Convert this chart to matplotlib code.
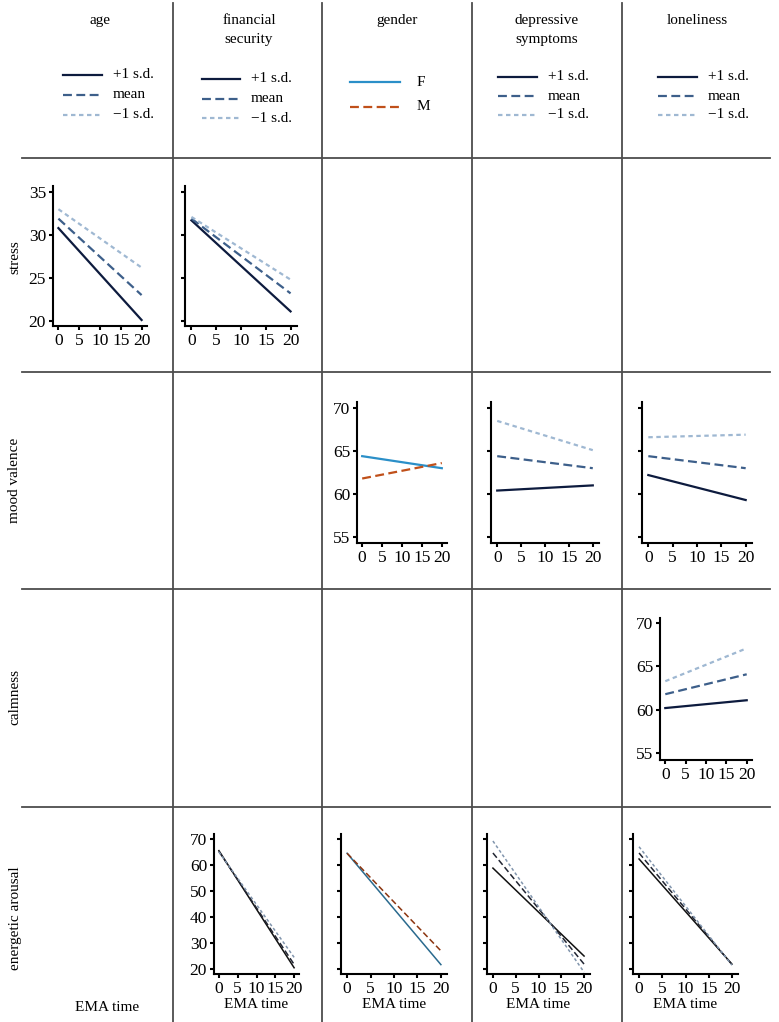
import matplotlib
matplotlib.use("Agg")
import matplotlib.pyplot as plt
from matplotlib.lines import Line2D

plt.rcParams['font.family'] = ['Liberation Serif', 'DejaVu Serif']
plt.rcParams['font.size'] = 11

W, H = 779, 1022

# column / row names
columns = ["age", "financial\nsecurity", "gender", "depressive\nsymptoms", "loneliness"]
rows = ["stress", "mood valence", "calmness", "energetic arousal"]
sd_labels = ["+1 s.d.", "mean", "\u22121 s.d."]
gender_labels = ["F", "M"]
ema = [0, 20]

# simple slopes: (start at EMA 0, end at EMA 20) for +1 s.d., mean, -1 s.d.
stress_age = [[30.8, 20.1], [31.9, 23.0], [33.0, 26.2]]
stress_fin = [[31.7, 21.1], [31.9, 23.2], [32.1, 24.8]]
mood_gender = [[64.4, 63.0], [61.8, 63.6]]
mood_dep = [[60.4, 61.0], [64.4, 63.0], [68.5, 65.1]]
mood_lone = [[62.2, 59.3], [64.4, 63.0], [66.6, 66.9]]
calm_lone = [[60.2, 61.1], [61.8, 64.1], [63.3, 67.1]]
energy_fin = [[65.5, 20.5], [65.2, 21.8], [65.0, 24.5]]
energy_gender = [[64.5, 21.7], [64.5, 27.0]]
energy_dep = [[58.8, 25.0], [64.6, 21.9], [69.2, 18.8]]
energy_lone = [[62.3, 21.9], [64.6, 21.7], [67.0, 21.5]]

sd_colors = ['#0d1b3e', '#3d5f8a', '#9fb8d2']
sd_dash = [None, (4, 2), (2, 1.6)]
g_colors = ['#2b8fc8', '#c0501a']
g_dash = [None, (4, 2)]
e_colors = ['#111111', '#222633', '#8195ad']
eg_colors = ['#2a6a8e', '#8b3510']

fig = plt.figure(figsize=(W / 100, H / 100), dpi=100)


def fx(x):
    return x / W


def fy(y):
    return 1 - y / H


def panel(l, r, t, b, ylim, yticks, show_ylab, xlabel=False):
    ax = fig.add_axes([fx(l), fy(b), fx(r - l), (b - t) / H])
    ax.set_xlim(-1.3, 21.3)
    ax.set_ylim(*ylim)
    ax.set_xticks([0, 5, 10, 15, 20])
    ax.set_yticks(yticks)
    if not show_ylab:
        ax.set_yticklabels([])
    for s in ['top', 'right']:
        ax.spines[s].set_visible(False)
    for s in ['left', 'bottom']:
        ax.spines[s].set_linewidth(1.5)
    ax.tick_params(length=3, width=1.5, pad=2, labelsize=12.5)
    ax.patch.set_alpha(0)
    if xlabel:
        ax.set_xlabel("EMA time", fontsize=11, labelpad=1)
    return ax


def draw_sd(ax, series, colors, lw=1.6):
    for vals, c, d in zip(series, colors, sd_dash):
        ln, = ax.plot(ema, vals, color=c, lw=lw)
        if d:
            ln.set_dashes(d)


def draw_g(ax, series, colors, lw=1.6):
    for vals, c, d in zip(series, colors, g_dash):
        ln, = ax.plot(ema, vals, color=c, lw=lw)
        if d:
            ln.set_dashes(d)


st_lim, st_t = (19.4, 35.7), [20, 25, 30, 35]
mv_lim, mv_t = (54.3, 70.7), [55, 60, 65, 70]
ca_lim = (54.2, 70.6)
en_lim, en_t = (18.1, 71.9), [20, 30, 40, 50, 60, 70]

ax = panel(53, 147, 186, 326, st_lim, st_t, True)
draw_sd(ax, stress_age, sd_colors)
ax = panel(185, 297, 186, 326, st_lim, st_t, False)
draw_sd(ax, stress_fin, sd_colors)

ax = panel(357, 447, 402, 543, mv_lim, mv_t, True)
draw_g(ax, mood_gender, g_colors)
ax = panel(491, 599, 402, 543, mv_lim, mv_t, False)
draw_sd(ax, mood_dep, sd_colors)
ax = panel(642, 752, 402, 543, mv_lim, mv_t, False)
draw_sd(ax, mood_lone, sd_colors)

ax = panel(660, 752, 618, 760, ca_lim, mv_t, True)
draw_sd(ax, calm_lone, sd_colors)

ax = panel(214, 299, 834, 974, en_lim, en_t, True, True)
draw_sd(ax, energy_fin, e_colors, 1.1)
ax = panel(341, 447, 834, 974, en_lim, en_t, False, True)
draw_g(ax, energy_gender, eg_colors, 1.1)
ax = panel(487, 590, 834, 974, en_lim, en_t, False, True)
draw_sd(ax, energy_dep, e_colors, 1.1)
ax = panel(633, 738, 834, 974, en_lim, en_t, False, True)
draw_sd(ax, energy_lone, e_colors, 1.1)

# grid separators
grid_c = '#4d4d4d'
for x in [173, 322, 472, 622]:
    fig.add_artist(Line2D([fx(x), fx(x)], [fy(3), fy(1022)], color=grid_c, lw=1.3))
for y in [158, 372, 589, 807]:
    fig.add_artist(Line2D([fx(22), fx(770)], [fy(y), fy(y)], color=grid_c, lw=1.3))

# column headers
col_cx = [100, 249, 397, 547, 697]
for name, cx in zip(columns, col_cx):
    fig.text(fx(cx), fy(14), name, ha='center', va='top', fontsize=11, linespacing=1.6)

# header legends
leg_x = [(63, 102), (202, 240), None, (498, 537), (658, 697)]
leg_y = [(75, 95, 115), (79, 99, 118), None, (77, 96, 115), (77, 96, 115)]
for lx, ly in zip(leg_x, leg_y):
    if lx is None:
        continue
    for lab, c, d, y in zip(sd_labels, sd_colors, sd_dash, ly):
        ln = Line2D([fx(lx[0]), fx(lx[1])], [fy(y), fy(y)], color=c, lw=1.6)
        if d:
            ln.set_dashes(d)
        fig.add_artist(ln)
        fig.text(fx(lx[1] + 11), fy(y), lab, ha='left', va='center', fontsize=11)
for lab, c, d, y in zip(gender_labels, g_colors, g_dash, (82, 107)):
    ln = Line2D([fx(350), fx(400)], [fy(y), fy(y)], color=c, lw=1.6)
    if d:
        ln.set_dashes(d)
    fig.add_artist(ln)
    fig.text(fx(417), fy(y), lab, ha='left', va='center', fontsize=11)

# row labels
for lab, y in zip(rows, [257, 480, 697, 918]):
    fig.text(fx(15), fy(y), lab, rotation=90, ha='center', va='center', fontsize=11)

fig.text(fx(107), fy(1007), "EMA time", ha='center', va='center', fontsize=11)

fig.savefig("out.png", dpi=100)
